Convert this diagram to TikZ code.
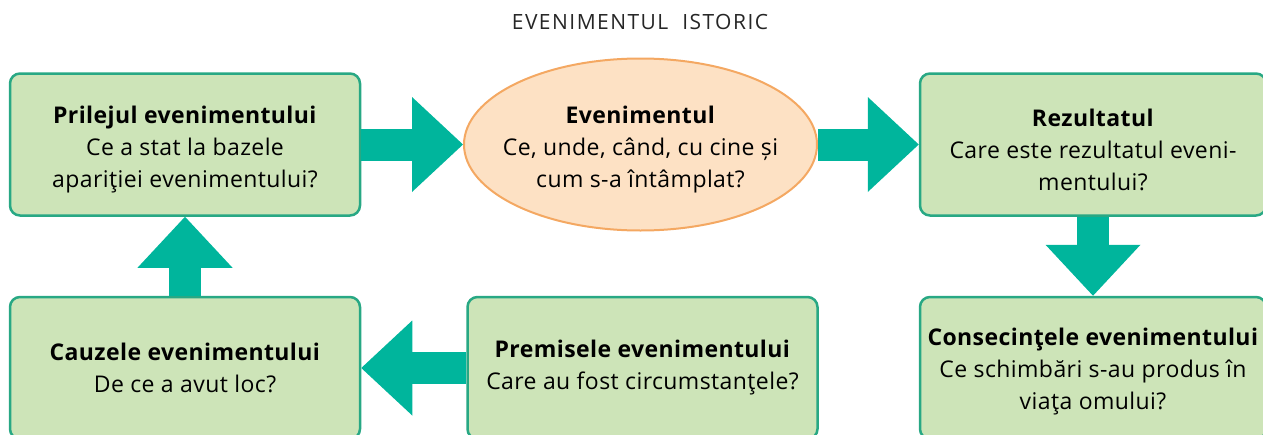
\documentclass[tikz,border=0pt]{standalone}
\usepackage{fontspec}
\setmainfont{Open Sans}[LetterSpace=1.8]
\usetikzlibrary{positioning,shapes.geometric,arrows.meta}
\definecolor{boxfill}{RGB}{205,228,184}
\definecolor{boxline}{RGB}{40,168,132}
\definecolor{evfill}{RGB}{253,225,196}
\definecolor{evline}{RGB}{244,168,98}
\definecolor{arrteal}{RGB}{0,181,156}
\newcommand{\topstrut}{\rule{0pt}{28pt}}
\begin{document}
\begin{tikzpicture}[x=1pt, y=-1pt, node distance=79pt and 104pt,
  box/.style={draw=boxline, fill=boxfill, line width=2.5pt, rounded corners=10pt, align=center, minimum width=350pt, minimum height=142pt, inner sep=0pt, font=\fontsize{23}{32}\selectfont},
  evbox/.style={box, ellipse, draw=evline, fill=evfill, line width=2pt, inner xsep=-30pt, minimum width=353pt, minimum height=172pt},
  bigarr/.style={draw=arrteal, line width=32pt, -{Triangle[length=51pt, width=95pt, line width=0pt]}}]
\useasboundingbox (0,0) rectangle (1263,434);
\clip (0,0) rectangle (1263,434);
\node[font=\fontsize{21}{24}\selectfont\addfontfeatures{LetterSpace=7}, text=black!85] (title) at (640,22) {EVENIMENTUL\ \ ISTORIC};
\node[box] (pril) at (185,144.5) {\topstrut\textbf{Prilejul evenimentului}\\Ce a stat la bazele\\apariţiei evenimentului?};
\node[evbox] (ev) at (640.5,144.5) {\topstrut\textbf{Evenimentul}\\Ce, unde, când, cu cine și\\cum s-a întâmplat?};
\node[box, minimum width=346pt] (rez) at (1093,144.5) {\topstrut\textbf{Rezultatul}\\Care este rezultatul eveni-\\mentului?};
\node[box, minimum width=346pt, below=of rez] (cons) {\rule{0pt}{24pt}\textbf{Consecinţele evenimentului}\\Ce schimbări s-au produs în\\viaţa omului?};
\node[box, below=of pril] (cauz) {\textbf{Cauzele evenimentului}\\De ce a avut loc?};
\node[box, right=105pt of cauz] (prem) {\textbf{Premisele evenimentului}\\Care au fost circumstanţele?};
\draw[bigarr] (pril) -- (ev); \draw[bigarr] (ev) -- (rez); \draw[bigarr] (rez) -- (cons);
\draw[bigarr] (prem) -- (cauz); \draw[bigarr] (cauz) -- (pril);
\end{tikzpicture}
\end{document}
